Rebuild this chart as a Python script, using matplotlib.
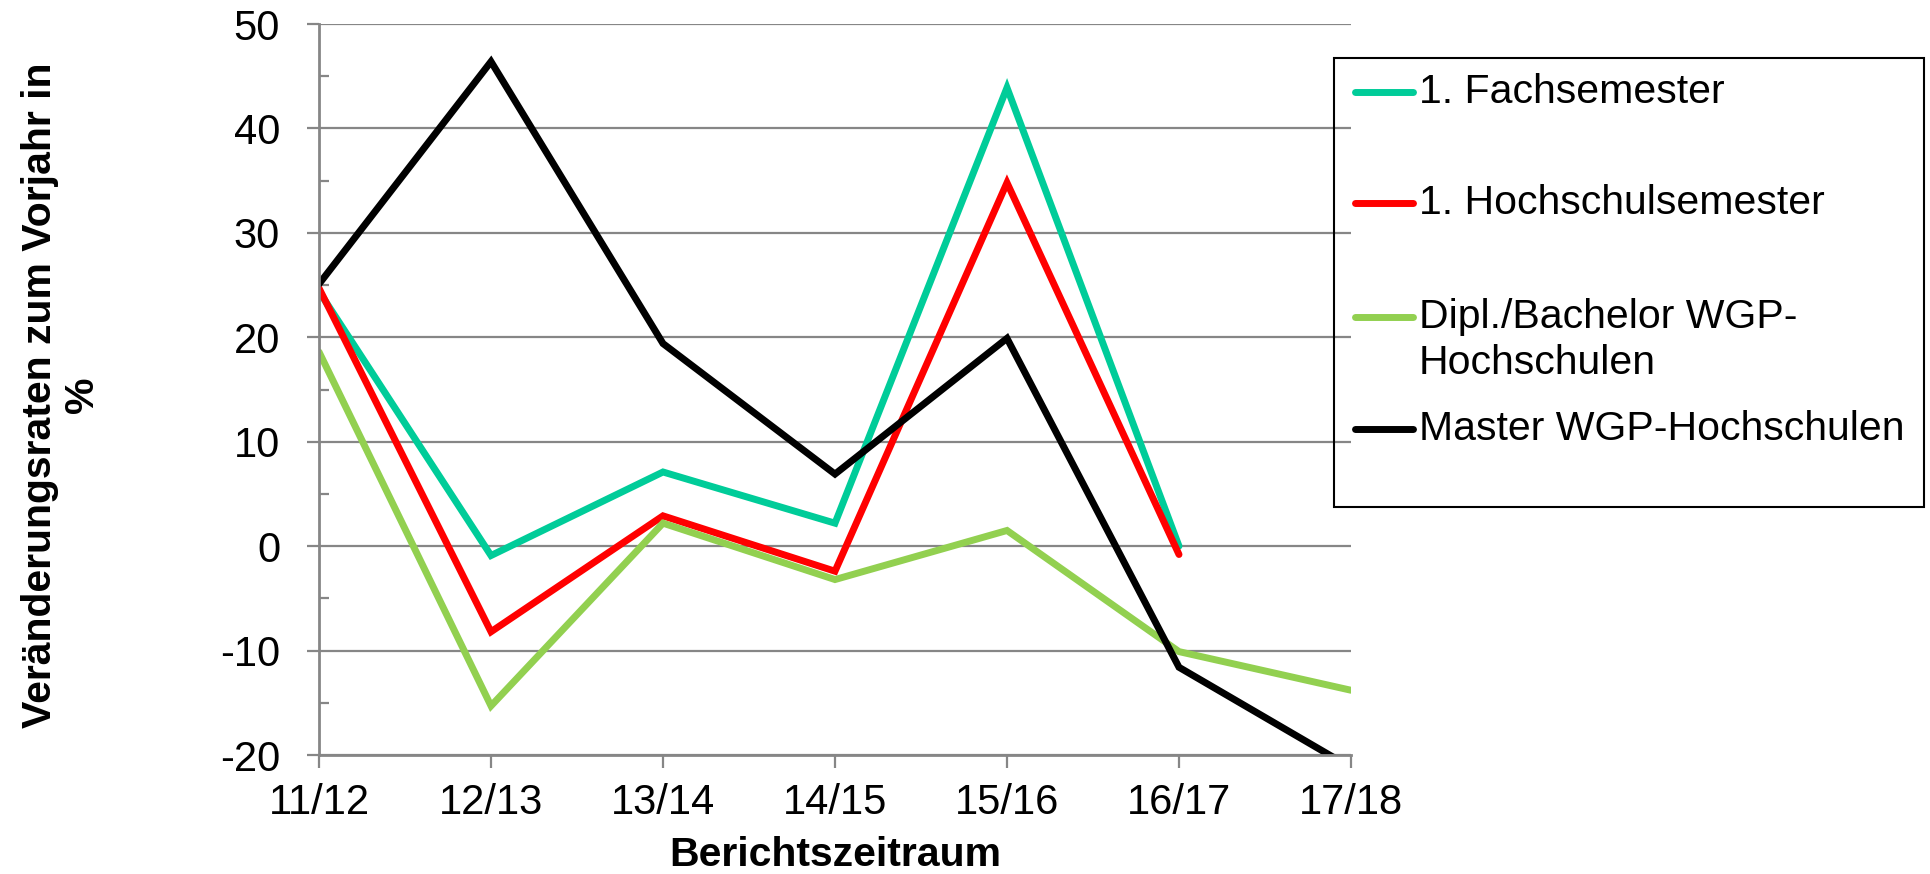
import numpy as np
import matplotlib
matplotlib.use("Agg")
import matplotlib.pyplot as plt
from matplotlib.lines import Line2D
from matplotlib.patches import Rectangle

plt.rcParams['font.family'] = ['Liberation Sans', 'DejaVu Sans']
plt.rcParams['axes.unicode_minus'] = False

# data
zeitraum = ['11/12', '12/13', '13/14', '14/15', '15/16', '16/17', '17/18']
fachsemester = [24.4, -0.9, 7.1, 2.2, 43.9, 0.0, np.nan]
hochschulsemester = [24.7, -8.2, 2.9, -2.4, 34.8, -0.8, np.nan]
bachelor = [18.6, -15.3, 2.2, -3.2, 1.5, -10.1, -13.8]
master = [25.1, 46.4, 19.4, 6.9, 19.9, -11.6, -21.2]

series = [
    ('1. Fachsemester', fachsemester, '#00CC99'),
    ('1. Hochschulsemester', hochschulsemester, '#FF0000'),
    ('Dipl./Bachelor WGP-\nHochschulen', bachelor, '#92D050'),
    ('Master WGP-Hochschulen', master, '#000000'),
]

W, H = 1930, 874
fs = 30
lw = 5
fig = plt.figure(figsize=(W / 100, H / 100), dpi=100)

#pixel -> figure fraction
def fx(px):
    return px / W
def fy(py):
    return 1 - py / H

ax = fig.add_axes([fx(319), fy(755), fx(1351) - fx(319), fy(24) - fy(755)])

grey = '#868686'
x = np.arange(len(zeitraum))
for name, vals, col in series:
    ax.plot(x, vals, color=col, lw=lw, solid_capstyle='round', solid_joinstyle='miter')

ax.set_xlim(0, len(zeitraum) - 1)
ax.set_ylim(-20, 50)
ax.set_yticks(np.arange(-20, 51, 10))
ax.set_yticks(np.arange(-15, 50, 10), minor=True)
ax.set_xticks(x)
ax.set_xticklabels(zeitraum)
ax.yaxis.grid(True, color=grey, lw=1.6)
ax.set_axisbelow(True)

for s in ['top', 'right']:
    ax.spines[s].set_visible(False)
for s in ['left', 'bottom']:
    ax.spines[s].set_color(grey)
    ax.spines[s].set_linewidth(2.0)

ax.tick_params(axis='y', which='major', direction='out', length=9, width=1.6,
               color=grey, labelsize=fs, pad=19)
ax.tick_params(axis='y', which='minor', direction='in', length=7, width=1.6, color=grey)
ax.tick_params(axis='x', direction='out', length=9, width=1.6, color=grey,
               labelsize=fs, pad=11)

# axis titles
fig.text(fx(835), fy(855), 'Berichtszeitraum', fontsize=29.5, fontweight='bold',
         ha='center', va='center')
fig.text(fx(61), fy(395), 'Veränderungsraten zum Vorjahr in\n%', fontsize=29.5,
         fontweight='bold', rotation=90, ha='center', va='center',
         multialignment='center', linespacing=1.12)

# legend box drawn by hand to match the excel layout
fig.add_artist(Rectangle((fx(1334), fy(507)), fx(1924) - fx(1334), fy(58) - fy(507),
                         transform=fig.transFigure, fill=False, ec='black', lw=1.5))
rows = [92, 203, 317, 429]
for (name, vals, col), ry in zip(series, rows):
    fig.add_artist(Line2D([fx(1355), fx(1413)], [fy(ry), fy(ry)], transform=fig.transFigure,
                          color=col, lw=lw, solid_capstyle='round'))
    for i, part in enumerate(name.split('\n')):
        fig.text(fx(1419), fy(ry + 46 * i), part, fontsize=29.5, ha='left', va='center')

fig.savefig('out.png', dpi=100)
